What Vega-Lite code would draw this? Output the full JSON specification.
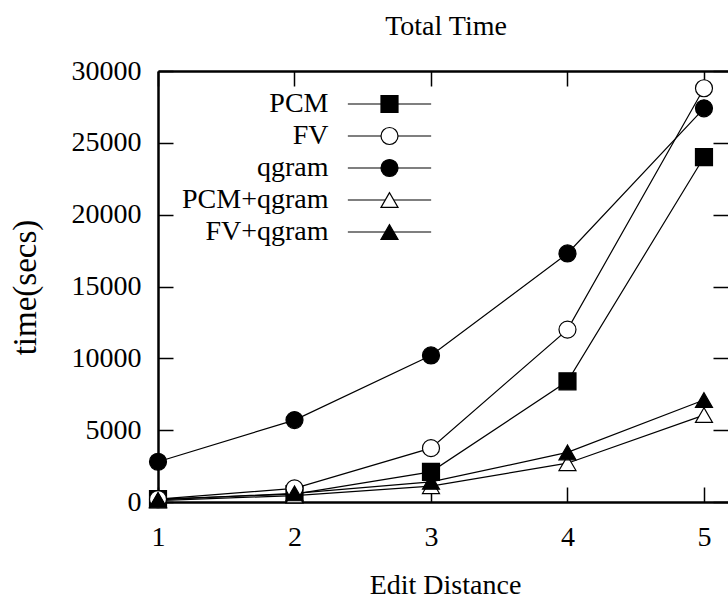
{
  "$schema": "https://vega.github.io/schema/vega-lite/v6.json",
  "width": 570,
  "height": 431,
  "autosize": {"type": "none"},
  "padding": {"left": 158, "top": 71, "right": 0, "bottom": 96},
  "background": "white",
  "config": {
    "view": {"stroke": null},
    "font": "Liberation Serif",
    "axis": {"grid": false, "labelFont": "Liberation Serif", "labelColor": "black", "titleFont": "Liberation Serif", "titleColor": "black", "titleFontWeight": "normal", "tickColor": "black", "domainColor": "black"}
  },
  "title": {"text": "Total Time", "font": "Liberation Serif", "fontSize": 28, "fontWeight": "normal", "color": "black", "anchor": "middle", "frame": "group", "baseline": "alphabetic", "offset": 12, "dy": 18, "dx": 3},
  "data": {
    "values": [
      {"series": "PCM", "d": 1, "t": 200},
      {"series": "PCM", "d": 2, "t": 550},
      {"series": "PCM", "d": 3, "t": 2100},
      {"series": "PCM", "d": 4, "t": 8400},
      {"series": "PCM", "d": 5, "t": 24000},
      {"series": "FV", "d": 1, "t": 200},
      {"series": "FV", "d": 2, "t": 950},
      {"series": "FV", "d": 3, "t": 3750},
      {"series": "FV", "d": 4, "t": 12000},
      {"series": "FV", "d": 5, "t": 28800},
      {"series": "qgram", "d": 1, "t": 2800},
      {"series": "qgram", "d": 2, "t": 5700},
      {"series": "qgram", "d": 3, "t": 10200},
      {"series": "qgram", "d": 4, "t": 17300},
      {"series": "qgram", "d": 5, "t": 27400},
      {"series": "PCM+qgram", "d": 1, "t": 100},
      {"series": "PCM+qgram", "d": 2, "t": 450},
      {"series": "PCM+qgram", "d": 3, "t": 1100},
      {"series": "PCM+qgram", "d": 4, "t": 2700},
      {"series": "PCM+qgram", "d": 5, "t": 6050},
      {"series": "FV+qgram", "d": 1, "t": 150},
      {"series": "FV+qgram", "d": 2, "t": 600},
      {"series": "FV+qgram", "d": 3, "t": 1400},
      {"series": "FV+qgram", "d": 4, "t": 3450},
      {"series": "FV+qgram", "d": 5, "t": 7100}
    ]
  },
  "layer": [
    {
      "mark": {"type": "line", "strokeWidth": 1.2},
      "encoding": {
        "x": {"field": "d", "type": "quantitative", "scale": {"domain": [1, 5.176], "nice": false, "zero": false},
          "axis": {"orient": "bottom", "values": [1, 2, 3, 4, 5], "format": "d", "domain": true, "domainWidth": 2.5, "tickSize": -15, "tickWidth": 1.5, "labelPadding": 36, "labelFontSize": 28, "labelFlush": false, "labelOverlap": false,
            "title": "Edit Distance", "titleFontSize": 28, "titleX": 287, "titleY": 91, "titleAlign": "center", "titleBaseline": "alphabetic", "titleAnchor": null}},
        "y": {"field": "t", "type": "quantitative", "scale": {"domain": [0, 30000], "nice": false},
          "axis": {"orient": "left", "values": [0, 5000, 10000, 15000, 20000, 25000, 30000], "format": "d", "domain": true, "domainWidth": 2.5, "tickSize": -15, "tickWidth": 1.5, "labelPadding": 32, "labelFontSize": 28, "labelFlush": false, "labelOverlap": false, "labelBaseline": "middle",
            "title": "time(secs)", "titleFontSize": 33, "titleX": -133, "titleY": 216, "titleAngle": 270, "titleAlign": "center", "titleBaseline": "middle", "titleAnchor": null}},
        "stroke": {"field": "series", "type": "nominal",
          "scale": {"range": ["black", "black", "black", "black", "black"]},
          "legend": {"orient": "none", "legendX": 217.5, "legendY": 19, "title": null, "symbolType": "M-4.9,0H4.9", "symbolSize": 289, "symbolStrokeWidth": 1.2, "symbolStrokeColor": "black", "labelExpr": "''", "labelFontSize": 28, "labelOffset": 0, "rowPadding": 4, "padding": 0, "zindex": 0}}
      }
    },
    {
      "mark": {"type": "point", "stroke": "black", "strokeWidth": 1.2, "opacity": 1, "size": 289},
      "encoding": {
        "x": {"field": "d", "type": "quantitative",
          "axis": {"orient": "top", "values": [1, 2, 3, 4, 5], "domain": true, "domainWidth": 2.5, "tickSize": -15, "tickWidth": 1.5, "labels": false, "title": null}},
        "y": {"field": "t", "type": "quantitative",
          "axis": {"orient": "right", "values": [0, 5000, 10000, 15000, 20000, 25000, 30000], "domain": false, "tickSize": -15, "tickWidth": 1.5, "labels": false, "title": null}},
        "shape": {"field": "series", "type": "nominal",
          "scale": {"domain": ["PCM", "FV", "qgram", "PCM+qgram", "FV+qgram"], "range": ["square", "circle", "circle", "triangle-up", "triangle-up"]},
          "legend": {"orient": "none", "legendX": 217.5, "legendY": 19, "title": null, "symbolSize": 289, "symbolStrokeColor": "black", "symbolStrokeWidth": 1.2, "symbolOpacity": 1, "labelFont": "Liberation Serif", "labelFontSize": 28, "labelColor": "black", "labelAlign": "right", "labelBaseline": "middle", "labelOffset": -75, "labelLimit": 400, "rowPadding": 4, "padding": 0, "zindex": 1,
            "encode": {"symbols": {"update": {"stroke": {"value": "black"}, "strokeWidth": {"value": 1.2}, "strokeOpacity": {"value": 1}}}}}},
        "fill": {"field": "series", "type": "nominal",
          "scale": {"domain": ["PCM", "FV", "qgram", "PCM+qgram", "FV+qgram"], "range": ["black", "white", "black", "white", "black"]},
          "legend": {"orient": "none", "legendX": 217.5, "legendY": 19, "title": null, "symbolSize": 289, "symbolStrokeColor": "black", "symbolStrokeWidth": 1.2, "symbolOpacity": 1, "labelFont": "Liberation Serif", "labelFontSize": 28, "labelColor": "black", "labelAlign": "right", "labelBaseline": "middle", "labelOffset": -75, "labelLimit": 400, "rowPadding": 4, "padding": 0, "zindex": 1,
            "encode": {"symbols": {"update": {"stroke": {"value": "black"}, "strokeWidth": {"value": 1.2}, "strokeOpacity": {"value": 1}}}}}}
      }
    }
  ],
  "resolve": {"axis": {"x": "independent", "y": "independent"}}
}
